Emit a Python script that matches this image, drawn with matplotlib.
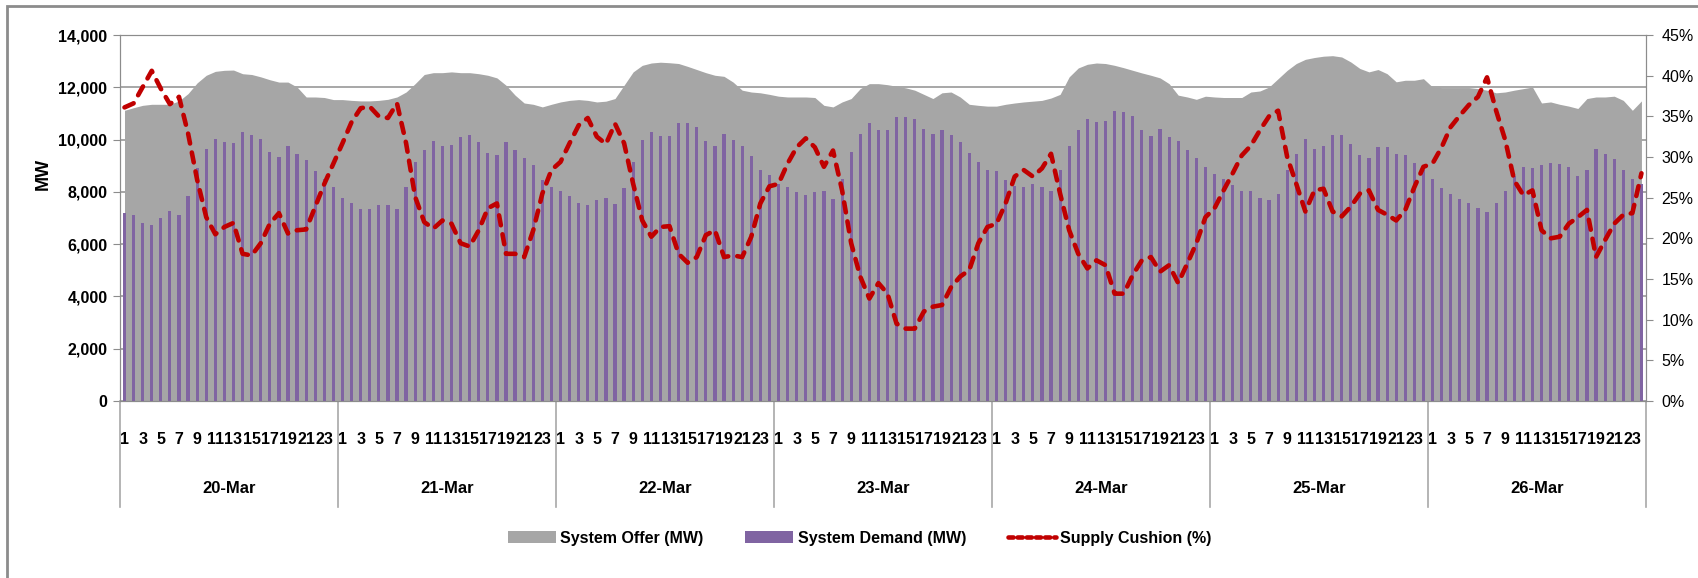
import numpy as np
import matplotlib
matplotlib.use('Agg')
import matplotlib.pyplot as plt
from matplotlib import font_manager
from matplotlib.patches import Patch, Rectangle
from matplotlib.lines import Line2D

names = {f.name for f in font_manager.fontManager.ttflist}
if 'Liberation Sans Narrow' in names:
    main_font, FS = 'Liberation Sans Narrow', 13.5
else:
    main_font, FS = 'Liberation Sans', 11.5
plt.rcParams['font.family'] = [main_font, 'DejaVu Sans']

days = ['20-Mar', '21-Mar', '22-Mar', '23-Mar', '24-Mar', '25-Mar', '26-Mar']
hours = list(range(1, 25))

# hourly values, one row per day
offer_mw = [
    11120, 11220, 11310, 11350, 11350, 11350, 11480, 11760, 12170, 12460, 12610, 12650, 12660, 12520, 12490, 12400, 12290, 12200, 12200, 12010, 11630, 11630, 11610, 11530,
    11530, 11500, 11480, 11480, 11500, 11540, 11630, 11820, 12140, 12490, 12560, 12560, 12590, 12560, 12560, 12520, 12460, 12360, 12080, 11700, 11400, 11350, 11250, 11350,
    11440, 11500, 11530, 11500, 11440, 11470, 11570, 12080, 12590, 12840, 12930, 12960, 12940, 12910, 12800, 12680, 12560, 12460, 12420, 12200, 11890, 11820, 11790, 11730,
    11660, 11630, 11630, 11630, 11610, 11310, 11250, 11440, 11570, 11950, 12140, 12140, 12100, 12040, 11980, 11890, 11730, 11570, 11790, 11820, 11630, 11350, 11310, 11280,
    11280, 11350, 11400, 11440, 11470, 11500, 11590, 11730, 12400, 12740, 12880, 12930, 12910, 12840, 12750, 12650, 12550, 12460, 12360, 12140, 11700, 11630, 11540, 11660,
    11630, 11610, 11610, 11610, 11820, 11860, 12010, 12330, 12650, 12910, 13070, 13140, 13190, 13210, 13160, 12970, 12720, 12590, 12680, 12520, 12210, 12270, 12270, 12330,
    12010, 11990, 11990, 11990, 11990, 11950, 11890, 11790, 11820, 11890, 11950, 12010, 11400, 11440, 11350, 11280, 11190, 11570, 11630, 11630, 11660, 11500, 11120, 11480,
]

demand_mw = [
    7200, 7100, 6800, 6750, 6990, 7250, 7100, 7840, 8920, 9640, 10040, 9890, 9870, 10280, 10180, 10040, 9540, 9350, 9750, 9440, 9210, 8800, 8500, 8180,
    7780, 7590, 7340, 7340, 7490, 7490, 7340, 8180, 9150, 9590, 9940, 9750, 9800, 10090, 10180, 9890, 9490, 9400, 9890, 9590, 9300, 9010, 8470, 8180,
    8030, 7840, 7580, 7490, 7680, 7780, 7540, 8130, 9150, 9990, 10280, 10130, 10130, 10630, 10630, 10470, 9940, 9750, 10230, 9990, 9750, 9390, 8850, 8660,
    8320, 8180, 7980, 7890, 7980, 8030, 7730, 8500, 9540, 10230, 10630, 10380, 10380, 10870, 10870, 10770, 10420, 10230, 10380, 10180, 9890, 9490, 9150, 8850,
    8800, 8450, 8220, 8170, 8320, 8170, 8030, 8850, 9750, 10380, 10770, 10680, 10730, 11110, 11060, 10920, 10380, 10130, 10420, 10090, 9940, 9590, 9300, 8960,
    8700, 8510, 8270, 8030, 8030, 7780, 7680, 7920, 8850, 9440, 10040, 9640, 9750, 10180, 10180, 9840, 9400, 9300, 9700, 9700, 9440, 9400, 9110, 8850,
    8510, 8130, 7920, 7730, 7580, 7390, 7240, 7580, 8030, 8610, 8960, 8910, 9010, 9110, 9060, 8960, 8610, 8850, 9640, 9450, 9250, 8850, 8510, 8320,
]

cushion_pct = [
    36.1, 36.6, 38.6, 40.6, 38.4, 36.5, 37.4, 32.9, 27.2, 22.6, 20.5, 21.4, 21.9, 18.1, 17.9, 19.4, 21.8, 23.1, 20.6, 21.0, 21.1, 23.9, 26.7, 29.2,
    31.7, 34.3, 36.0, 36.2, 35.0, 34.8, 36.6, 31.7, 25.1, 22.0, 21.2, 22.2, 21.8, 19.4, 19.0, 21.0, 23.7, 24.3, 18.1, 18.1, 17.7, 21.0, 25.5, 28.4,
    29.4, 31.7, 33.9, 34.8, 32.5, 31.6, 34.1, 31.7, 26.7, 22.2, 20.2, 21.4, 21.5, 18.1, 17.0, 17.7, 20.4, 21.0, 17.7, 17.9, 17.7, 20.2, 24.3, 26.4,
    26.7, 29.2, 31.2, 32.3, 31.2, 28.8, 30.8, 25.9, 19.4, 15.3, 12.6, 14.5, 13.2, 9.5, 8.9, 8.9, 11.0, 11.6, 11.8, 14.0, 15.3, 16.1, 19.4, 21.4,
    21.8, 24.3, 27.6, 28.4, 27.6, 28.6, 30.4, 25.5, 21.0, 18.1, 16.3, 17.3, 16.7, 13.2, 13.2, 15.5, 17.3, 17.7, 15.9, 16.7, 14.5, 16.9, 19.4, 22.6,
    23.7, 25.9, 28.0, 30.2, 31.4, 33.3, 35.0, 35.7, 30.0, 26.7, 23.3, 25.9, 26.1, 23.3, 22.7, 23.9, 25.5, 25.9, 23.5, 22.9, 22.2, 23.5, 26.3, 28.8,
    29.2, 31.2, 33.7, 35.1, 36.4, 37.4, 39.8, 35.7, 32.1, 27.1, 25.3, 25.9, 21.0, 20.0, 20.2, 21.8, 22.6, 23.5, 17.7, 19.8, 21.8, 22.9, 23.1, 28.0,
]

mw_ticks = list(range(0, 14001, 2000))
pct_ticks = list(range(0, 46, 5))

GRAY = '#A6A6A6'
PURPLE = '#8064A2'
RED = '#C00000'
AXIS = '#8C8C8C'

fig = plt.figure(figsize=(16.99, 5.78), dpi=100)
ax = fig.add_axes([0.0706, 0.3062, 0.8982, 0.6332])

x = np.arange(len(offer_mw))
ax.fill_between(x, offer_mw, color=GRAY, lw=0, zorder=2)
ax.bar(x, demand_mw, width=0.35, color=PURPLE, zorder=3)
ax.set_xlim(-0.5, len(x) - 0.5)
ax.set_ylim(0, 14000)
ax.set_yticks(mw_ticks, labels=[f'{v:,}' for v in mw_ticks], fontweight='bold', fontsize=FS)
ax.set_axisbelow(True)
ax.grid(axis='y', color='#A0A0A0', lw=1.3)
ax.tick_params(axis='y', length=5, color=AXIS, pad=4)
ax.set_xticks([])

# two-level category axis: odd hours, then day names, with day separators
trans = ax.get_xaxis_transform()
for d in range(len(days)):
    for h in hours:
        if h % 2 == 1:
            ax.text(d * 24 + h - 1, -0.104, str(h), transform=trans, ha='center',
                    va='center', fontweight='bold', fontsize=FS)
for i, d in enumerate(days):
    ax.text(i * 24 + 11.5, -0.238, d, transform=trans, ha='center', va='center',
            fontweight='bold', fontsize=FS + 0.5)
for i in range(len(days) + 1):
    ax.plot([i * 24 - 0.5] * 2, [0, -0.29], transform=trans, color='#A8A8A8',
            lw=1.2, clip_on=False)

for side in ['left', 'bottom', 'top', 'right']:
    ax.spines[side].set_color(AXIS)
ax.spines['top'].set_color('#A0A0A0')

ax.set_ylabel('MW', fontweight='bold', fontsize=13, family=['Liberation Sans', 'DejaVu Sans'])
ax.yaxis.set_label_coords(-0.045, 0.62)

ax2 = ax.twinx()
ax2.plot(x, np.array(cushion_pct) / 100, color=RED, lw=3.3, ls=(0, (2.2, 2.0)),
         dash_capstyle='round', zorder=4)
ax2.set_xlim(-0.5, len(x) - 0.5)
ax2.set_ylim(0, 0.45)
ax2.set_yticks([p / 100 for p in pct_ticks], labels=[f'{p}%' for p in pct_ticks], fontsize=FS)
ax2.tick_params(axis='y', length=5, color=AXIS, pad=6)
for side in ['left', 'bottom', 'top', 'right']:
    ax2.spines[side].set_color(AXIS)

handles = [Patch(facecolor=GRAY), Patch(facecolor=PURPLE),
           Line2D([], [], color=RED, lw=3.3, ls=(0, (1.1, 0.9)), dash_capstyle='round')]
labels = ['System Offer (MW)', 'System Demand (MW)', 'Supply Cushion (%)']
fig.legend(handles, labels, loc='center', bbox_to_anchor=(0.506, 0.069), ncol=3,
           frameon=False, prop={'weight': 'bold', 'size': FS}, handlelength=3.0,
           handleheight=0.7, handletextpad=0.3, columnspacing=2.6)

fig.patches.append(Rectangle((0.004, -0.5), 2, 1.49, transform=fig.transFigure,
                             fill=False, edgecolor=AXIS, lw=2))

fig.savefig('out.png', dpi=100)
